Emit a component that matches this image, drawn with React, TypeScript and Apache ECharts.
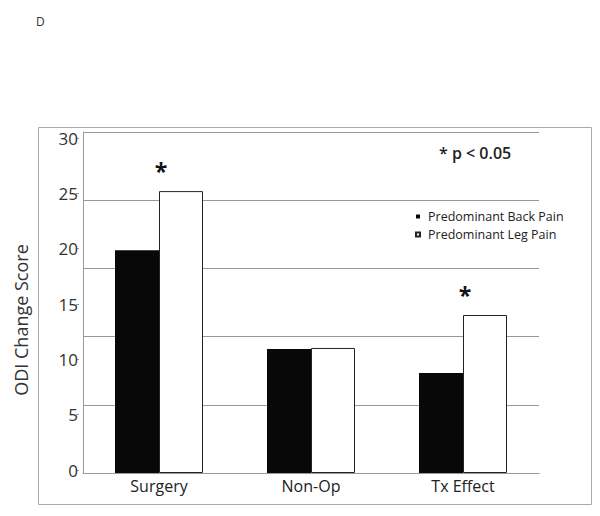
import React, { useEffect, useRef } from "react";
import * as echarts from "echarts";

const categories = ["Surgery", "Non-Op", "Tx Effect"];
const backPain = [19.6, 10.9, 8.8];
const legPain = [24.8, 11.0, 13.9];
const significant = [true, false, true];
const gridTicks = { min: 0, max: 30, interval: 6 };
const labelTicks = { min: 0, max: 30, interval: 5 };
const yTitle = "ODI Change Score";

const FONT = "'Open Sans', 'Noto Sans', sans-serif";

export default function App() {
  const ref = useRef<HTMLDivElement>(null);
  useEffect(() => {
    if (!ref.current) return;
    const chart = echarts.init(ref.current, undefined, { renderer: "svg" });
    chart.setOption({
      animation: false,
      backgroundColor: "#fff",
      textStyle: { fontFamily: FONT },
      title: {
        text: "D",
        left: 31,
        top: 10,
        textStyle: { fontSize: 12, fontWeight: "normal", color: "#333", fontFamily: FONT },
      },
      legend: {
        orient: "vertical",
        left: 410,
        top: 205,
        itemWidth: 4,
        itemHeight: 4,
        itemGap: 5,
        icon: "rect",
        textStyle: { fontSize: 12.5, lineHeight: 12, color: "#222", fontFamily: FONT, padding: [0, 0, 0, 3] },
        data: ["Predominant Back Pain", "Predominant Leg Pain"],
      },
      graphic: [
        {
          type: "rect",
          shape: { x: 38.5, y: 127.5, width: 553, height: 377 },
          style: { fill: "none", stroke: "#aaa", lineWidth: 1 },
          silent: true,
        },
        {
          type: "text",
          left: 439,
          top: 145,
          style: { text: "* p < 0.05", fontSize: 16, fontWeight: 600, fill: "#222", fontFamily: FONT },
        },
        {
          type: "text",
          x: 21,
          y: 320,
          rotation: Math.PI / 2,
          style: {
            text: yTitle,
            fontSize: 18,
            fill: "#333",
            fontFamily: FONT,
            align: "center",
            verticalAlign: "middle",
          },
        },
      ],
      grid: [
        { left: 83, right: 61, top: 132, bottom: 43 },
        { left: 79, right: 61, top: 138, bottom: 46 },
      ],
      xAxis: [
        {
          type: "category",
          gridIndex: 0,
          data: categories,
          axisLine: { lineStyle: { color: "#999", width: 1 } },
          axisTick: { show: false },
          axisLabel: { fontSize: 16, color: "#222", margin: 5, fontFamily: FONT },
        },
        { type: "category", gridIndex: 1, data: categories, show: false },
      ],
      yAxis: [
        {
          type: "value",
          gridIndex: 0,
          ...gridTicks,
          axisLine: { show: true, lineStyle: { color: "#999", width: 1 } },
          axisTick: { show: false },
          axisLabel: { show: false },
          splitLine: { show: true, lineStyle: { color: "#999", width: 1 } },
        },
        {
          type: "value",
          gridIndex: 1,
          ...labelTicks,
          axisLine: { show: false },
          axisTick: { show: true, length: 3, lineStyle: { color: "#999" } },
          axisLabel: { fontSize: 17, color: "#333", margin: 1, fontFamily: FONT },
          splitLine: { show: false },
        },
      ],
      series: [
        {
          name: "Predominant Back Pain",
          type: "bar",
          xAxisIndex: 0,
          yAxisIndex: 0,
          data: backPain,
          barWidth: 44,
          barGap: "0%",
          itemStyle: { color: "#080808" },
        },
        {
          name: "Predominant Leg Pain",
          type: "bar",
          xAxisIndex: 0,
          yAxisIndex: 0,
          data: legPain.map((v, i) => ({
            value: v,
            label: {
              show: significant[i],
              formatter: "*",
              position: "top",
              offset: [-20, -4],
              fontSize: 23,
              fontWeight: "bold",
              color: "#111",
            },
          })),
          barWidth: 44,
          barGap: "0%",
          itemStyle: { color: "#fff", borderColor: "#222", borderWidth: 1 },
        },
      ],
    });
    return () => chart.dispose();
  }, []);
  return (
    <div
      ref={ref}
      style={{ position: "fixed", left: 0, top: 0, width: 600, height: 516 }}
    />
  );
}
